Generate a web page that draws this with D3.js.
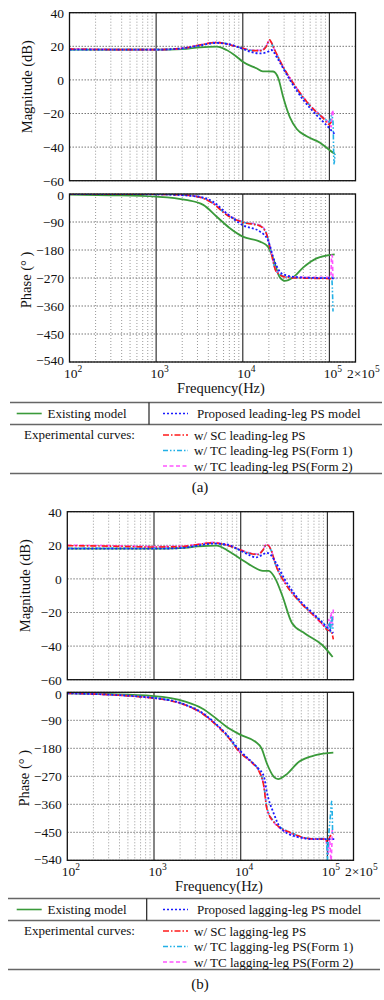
<!DOCTYPE html>
<html>
<head>
<meta charset="utf-8">
<script src="https://cdn.jsdelivr.net/npm/d3@7"></script>
<style>
body { margin: 0; background: #fff; }
svg { display: block; font-family: "Liberation Serif", "Times New Roman", serif; }
</style>
</head>
<body>
<div id="chart"></div>
<script>
// ---- tick values ----
const magTicks = [40, 20, 0, -20, -40, -60];
const phaseTicks = [0, -90, -180, -270, -360, -450, -540];
const freqTicks = [1e2, 1e3, 1e4, 1e5, 2e5];
const decades = [1e3, 1e4, 1e5];

// ---- (a) leading-leg, magnitude [Hz, dB] ----
const aMagExisting = [[100,18],[500,18],[1000,18],[2000,18.3],[3200,19.4],[5000,19.8],[6500,17.8],[8500,13.8],[10000,10.8],[14400,6.9],[17000,5.1],[22400,5],[25700,1],[29200,-10],[35000,-22.3],[42000,-29.2],[54000,-33.4],[78000,-37.4],[100000,-41.7],[115000,-44]];
const aMagProposed = [[100,18],[1000,18],[2000,18.8],[3200,20.5],[5000,22],[6500,21.5],[10000,18.5],[12100,16.8],[15800,15.8],[19000,16.5],[21400,17.8],[22800,16.5],[24500,13.8],[35000,0],[50000,-12],[71000,-20.9],[92000,-26.8],[115000,-32.2]];
const aMagSC = [[100,18.3],[500,18],[1000,18],[2000,18.8],[3200,20.8],[5000,22.2],[6500,21.4],[10000,18.8],[13200,17.4],[16400,17.4],[18500,19.5],[20400,23.8],[21500,22],[23400,17.8],[29200,7.9],[42000,-5],[59000,-15],[85000,-22.9],[100000,-26.5],[105000,-25]];
const aMagTC1 = [[100,18],[1000,18],[2000,18.6],[3200,20.6],[5000,22.3],[6500,21.6],[10000,18.8],[13200,17.5],[16400,17.6],[18500,19.8],[20400,23.5],[23400,17.5],[29200,7.5],[42000,-5.5],[59000,-15],[85000,-22.5],[100000,-25],[106000,-21],[110000,-25],[113000,-50],[116000,-44]];
const aMagTC2 = [[100,18.5],[1000,18],[2000,18.8],[3200,20.8],[5000,22.4],[6500,21.5],[10000,18.8],[13200,17.6],[16400,17.6],[18500,20],[20400,23.5],[23400,17.6],[29200,7.8],[42000,-5],[59000,-14.8],[85000,-22.5],[100000,-26],[105000,-28],[108000,-18],[112000,-20.5],[115000,-19.5]];

// ---- (a) leading-leg, phase [Hz, deg] ----
const aPhExisting = [[100,-2],[300,-4],[1000,-8.6],[2200,-19],[3500,-35],[5000,-73],[7100,-110],[10000,-137],[15800,-153],[19500,-169],[22400,-207],[26500,-266],[30500,-279],[38000,-268],[50000,-236],[71000,-207],[115000,-194]];
const aPhProposed = [[100,0],[1000,-1],[3000,-8],[4500,-24],[6500,-62],[10000,-100],[15800,-121],[19500,-148],[23400,-218],[29000,-258],[46000,-268],[120000,-271]];
const aPhSC = [[100,0],[1000,-1],[2000,-3],[3000,-8.6],[4500,-30],[6500,-67],[10000,-91],[15800,-103],[18700,-127],[21300,-191],[24400,-250],[32000,-268],[59000,-271],[105000,-272]];
const aPhTC1 = [[100,0],[1000,-1],[2000,-3],[3000,-8],[4500,-29],[6500,-66],[10000,-90],[15800,-102],[18700,-126],[21300,-190],[24400,-249],[32000,-267],[59000,-270],[100000,-270],[106000,-268],[108000,-300],[110000,-378]];
const aPhTC2 = [[100,0],[1000,-1],[2000,-3],[3000,-8],[4500,-28],[6500,-64],[10000,-89],[15800,-100],[18700,-125],[21300,-188],[24400,-248],[32000,-266],[59000,-268],[100000,-268],[104000,-266],[106000,-196],[108000,-200],[110000,-270],[112000,-272]];

// ---- (b) lagging-leg, magnitude [Hz, dB] ----
const bMagExisting = [[100,18],[1000,18],[2000,18.3],[3200,19.3],[5300,19.8],[6900,17.2],[9800,12.2],[13900,7.2],[18000,4.8],[21000,4.8],[25000,0.3],[30000,-9.6],[39000,-26.2],[55000,-32.5],[88000,-39.5],[115000,-46.5]];
const bMagProposed = [[100,18],[1000,18],[2000,18.3],[3200,19.8],[4800,21],[6900,20.5],[9800,17],[12600,14.2],[15000,12.8],[18000,14.5],[19800,15.5],[21500,15],[25000,10.3],[32600,-0.75],[46000,-11.7],[72000,-21.6],[103000,-29.6],[117000,-32.2]];
const bMagSC = [[100,19.8],[300,19.5],[1000,19],[2000,19.2],[3200,20.5],[4800,21.5],[6900,20.1],[9800,17.3],[12600,15.3],[15800,14.5],[18000,17],[19800,20.5],[22500,17],[25000,9.2],[32600,-2.7],[46000,-12.7],[72000,-22.6],[88000,-27],[100000,-30.5],[110000,-31],[117000,-36]];
const bMagTC1 = [[100,18.2],[1000,18.2],[2000,18.6],[3200,20],[4800,21.2],[6900,20],[9800,17.2],[12600,15.2],[15800,14.6],[18000,17],[19800,20.2],[22500,16.8],[25000,9],[32600,-2.5],[46000,-12.5],[72000,-22.3],[95000,-28],[100000,-31],[105000,-26],[108000,-32],[112000,-22],[116000,-30]];
const bMagTC2 = [[100,20],[300,19.8],[1000,19.3],[2000,19.4],[3200,20.6],[4800,21.8],[6900,20.3],[9800,17.5],[12600,15.5],[15800,14.8],[18000,17.2],[19800,20.8],[22500,17.2],[25000,9.5],[32600,-2.4],[46000,-12.4],[72000,-22.4],[100000,-29],[104000,-24],[107000,-31],[110000,-20],[114000,-28],[117000,-18]];

// ---- (b) lagging-leg, phase [Hz, deg] ----
const bPhExisting = [[100,-3],[1000,-12],[2300,-30],[3600,-52],[5200,-84],[6800,-110],[10000,-137],[14800,-159],[17400,-180],[20000,-228],[24000,-271],[27000,-279],[33000,-266],[47000,-223],[73000,-202],[117000,-194]];
const bPhProposed = [[100,-3],[1000,-18],[2300,-40],[3600,-66],[5200,-102],[6800,-134],[10000,-190],[13700,-226],[16000,-245],[18500,-270],[20000,-320],[24000,-389],[29000,-437],[45000,-465],[70000,-472],[100000,-472],[120000,-472]];
const bPhSC = [[100,-3],[1000,-19],[2300,-41],[3600,-68],[5200,-105],[6800,-137],[10000,-196],[13700,-228],[16000,-250],[18500,-303],[20000,-373],[24000,-416],[39000,-453],[66000,-471],[93000,-472],[100000,-480],[108000,-462],[117000,-455]];
const bPhTC1 = [[100,-3],[1000,-18],[2300,-40],[3600,-67],[5200,-104],[6800,-136],[10000,-194],[13700,-227],[16000,-249],[18500,-300],[20000,-368],[24000,-414],[39000,-452],[66000,-470],[93000,-470],[98000,-475],[100000,-540],[103000,-470],[108000,-400],[112000,-350],[115000,-460]];
const bPhTC2 = [[100,-3],[1000,-19],[2300,-41],[3600,-68],[5200,-104],[6800,-136],[10000,-195],[13700,-228],[16000,-250],[18500,-302],[20000,-372],[24000,-418],[39000,-455],[66000,-472],[95000,-470],[102000,-520],[106000,-470],[110000,-540],[114000,-440]];

const styles = {
  existing: { color: "#3a9a3a", dash: null, width: 1.8 },
  proposed: { color: "#1a1aff", dash: "2,2", width: 1.8 },
  sc: { color: "#ff1a1a", dash: "6,2,1.5,2", width: 1.6 },
  tc1: { color: "#22b0e6", dash: "5,2,1.5,2,1.5,2", width: 1.6 },
  tc2: { color: "#ff55ff", dash: "4,2.5", width: 1.6 }
};
const drawOrder = ["existing", "tc2", "tc1", "sc", "proposed"];

const svg = d3.select("#chart").append("svg")
  .attr("width", 384)
  .attr("height", 1000);

const minus = d => d < 0 ? "\u2212" + (-d) : String(d);
let clipId = 0;

function subplot(x, y, ticks, top, bottom, left, right, series, nudge) {
  const g = svg.append("g");
  const id = "clip" + (clipId++);
  g.append("clipPath").attr("id", id)
    .append("rect")
    .attr("x", left).attr("y", top)
    .attr("width", right - left).attr("height", bottom - top);

  // minor vertical grid
  const minors = [];
  [100, 1000, 10000].forEach(k => { for (let m = 2; m <= 9; m++) minors.push(k * m); });
  g.selectAll(".minor").data(minors).enter().append("line")
    .attr("x1", d => x(d)).attr("x2", d => x(d))
    .attr("y1", top).attr("y2", bottom)
    .attr("stroke", "#999")
    .attr("stroke-dasharray", "1,2");

  // horizontal grid
  g.selectAll(".hgrid").data(ticks).enter().append("line")
    .attr("x1", left).attr("x2", right)
    .attr("y1", d => y(d)).attr("y2", d => y(d))
    .attr("stroke", "#777")
    .attr("stroke-dasharray", "1.5,1.5");

  // decade lines
  g.selectAll(".major").data(decades).enter().append("line")
    .attr("x1", d => x(d)).attr("x2", d => x(d))
    .attr("y1", top).attr("y2", bottom)
    .attr("stroke", "#333")
    .attr("stroke-width", 1.2);

  const line = d3.line()
    .x(d => x(d[0]))
    .y(d => y(d[1]))
    .curve(d3.curveMonotoneX);

  const curves = g.append("g").attr("clip-path", `url(#${id})`);
  drawOrder.forEach(k => {
    const s = styles[k];
    curves.append("path")
      .datum(series[k])
      .attr("d", line)
      .attr("fill", "none")
      .attr("stroke", s.color)
      .attr("stroke-width", s.width)
      .attr("stroke-dasharray", s.dash);
  });

  g.append("rect")
    .attr("x", left).attr("y", top)
    .attr("width", right - left).attr("height", bottom - top)
    .attr("fill", "none")
    .attr("stroke", "#111")
    .attr("stroke-width", 1.3);

  // y tick labels
  const ya = svg.append("g")
    .attr("transform", `translate(${left},0)`)
    .call(d3.axisLeft(y).tickValues(ticks).tickSize(0).tickPadding(5.5).tickFormat(minus))
    .attr("font-family", null)
    .attr("font-size", 13.5)
    .call(a => a.select(".domain").remove());
  ya.selectAll("text").attr("fill", "#111")
    .attr("y", (d, i) => i === 0 ? nudge : (i === ticks.length - 1 ? -nudge : 0));
}

function panel(cfg) {
  const x = d3.scaleLog().domain([100, 2e5]).range([cfg.left, cfg.right]);
  const yMag = d3.scaleLinear().domain([-60, 40]).range([cfg.magTop + 168, cfg.magTop]);
  const yPh = d3.scaleLinear().domain([-540, 0]).range([cfg.phTop + 168, cfg.phTop]);

  subplot(x, yMag, magTicks, cfg.magTop, cfg.magTop + 168, cfg.left, cfg.right, cfg.mag, 0);
  subplot(x, yPh, phaseTicks, cfg.phTop, cfg.phTop + 168, cfg.left, cfg.right, cfg.phase, 1.5);

  // x tick labels
  const xa = svg.append("g")
    .attr("transform", `translate(0,${cfg.phTop + 168})`)
    .call(d3.axisBottom(x).tickValues(freqTicks).tickSize(0))
    .attr("font-family", null)
    .attr("font-size", 13.5)
    .call(a => a.select(".domain").remove());
  xa.selectAll("text")
    .attr("y", 15.5).attr("dy", null).attr("fill", "#111")
    .each(function(d) {
      const t = d3.select(this).text(null);
      const exp = Math.floor(Math.log10(d) + 1e-9);
      const lead = d === 2e5 ? "2\u00d710" : "10";
      t.append("tspan").text(lead);
      t.append("tspan").attr("dy", -6).attr("font-size", 9.5).text(exp);
      if (d === 2e5) t.attr("text-anchor", "start").attr("x", -9);
      else t.attr("x", 3);
    });

  svg.append("text")
    .attr("x", cfg.xLabelX).attr("y", cfg.phTop + 168 + 30.5)
    .attr("text-anchor", "middle").attr("font-size", 14.5).attr("fill", "#111")
    .text("Frequency(Hz)");

  svg.append("text")
    .attr("transform", `translate(${cfg.yLabelX},${cfg.magTop + 74}) rotate(-90)`)
    .attr("text-anchor", "middle").attr("font-size", 14.5).attr("fill", "#111")
    .text("Magnitude (dB)");
  svg.append("text")
    .attr("transform", `translate(${cfg.yLabelX - 1},${cfg.phTop + 86}) rotate(-90)`)
    .attr("text-anchor", "middle").attr("font-size", 14.5).attr("fill", "#111")
    .text("Phase (\u00b0 )");

  // legend
  const lt = cfg.legTop;
  const lg = svg.append("g").attr("font-size", 13).attr("fill", "#111");
  [lt, lt + 22, lt + 71].forEach(yy => {
    lg.append("line").attr("x1", cfg.legLeft).attr("x2", cfg.legRight)
      .attr("y1", yy).attr("y2", yy).attr("stroke", "#666").attr("stroke-width", 1.5);
  });
  lg.append("line").attr("x1", cfg.legDiv).attr("x2", cfg.legDiv)
    .attr("y1", lt).attr("y2", lt + 22).attr("stroke", "#222").attr("stroke-width", 1.2);

  const items = [
    { key: "existing", label: "Existing model", x0: 16.7, tx: 47.5, y: lt + 11 },
    { key: "proposed", label: cfg.proposedLabel, x0: 163, tx: 197, y: lt + 11 },
    { key: "sc", label: cfg.labels[0], x0: 163, tx: 194, y: lt + 32.5 },
    { key: "tc1", label: cfg.labels[1], x0: 163, tx: 194, y: lt + 48 },
    { key: "tc2", label: cfg.labels[2], x0: 163, tx: 194, y: lt + 63.5 }
  ];
  items.forEach(it => {
    const s = styles[it.key];
    lg.append("line")
      .attr("x1", it.x0).attr("x2", it.x0 + 25)
      .attr("y1", it.y).attr("y2", it.y)
      .attr("stroke", s.color).attr("stroke-width", 1.6)
      .attr("stroke-dasharray", s.dash);
    lg.append("text").attr("x", it.tx).attr("y", it.y + 4.5).text(it.label);
  });
  lg.append("text").attr("x", 24).attr("y", lt + 36.5).text("Experimental curves:");

  svg.append("text")
    .attr("x", 200).attr("y", cfg.capY)
    .attr("text-anchor", "middle").attr("font-size", 15).attr("fill", "#111")
    .text(cfg.caption);
}

panel({
  left: 69.5, right: 355.5, magTop: 12.7, phTop: 194,
  xLabelX: 221, yLabelX: 32,
  legTop: 402.5, legLeft: 10, legRight: 382, legDiv: 149,
  capY: 492, caption: "(a)",
  proposedLabel: "Proposed leading-leg PS model",
  labels: ["w/ SC leading-leg PS", "w/ TC leading-leg PS(Form 1)", "w/ TC leading-leg PS(Form 2)"],
  mag: { existing: aMagExisting, proposed: aMagProposed, sc: aMagSC, tc1: aMagTC1, tc2: aMagTC2 },
  phase: { existing: aPhExisting, proposed: aPhProposed, sc: aPhSC, tc1: aPhTC1, tc2: aPhTC2 }
});

panel({
  left: 67.3, right: 353.5, magTop: 511.7, phTop: 692.3,
  xLabelX: 219, yLabelX: 30,
  legTop: 898.5, legLeft: 8, legRight: 380, legDiv: 146.7,
  capY: 989, caption: "(b)",
  proposedLabel: "Proposed lagging-leg PS model",
  labels: ["w/ SC lagging-leg PS", "w/ TC lagging-leg PS(Form 1)", "w/ TC lagging-leg PS(Form 2)"],
  mag: { existing: bMagExisting, proposed: bMagProposed, sc: bMagSC, tc1: bMagTC1, tc2: bMagTC2 },
  phase: { existing: bPhExisting, proposed: bPhProposed, sc: bPhSC, tc1: bPhTC1, tc2: bPhTC2 }
});
</script>
</body>
</html>
